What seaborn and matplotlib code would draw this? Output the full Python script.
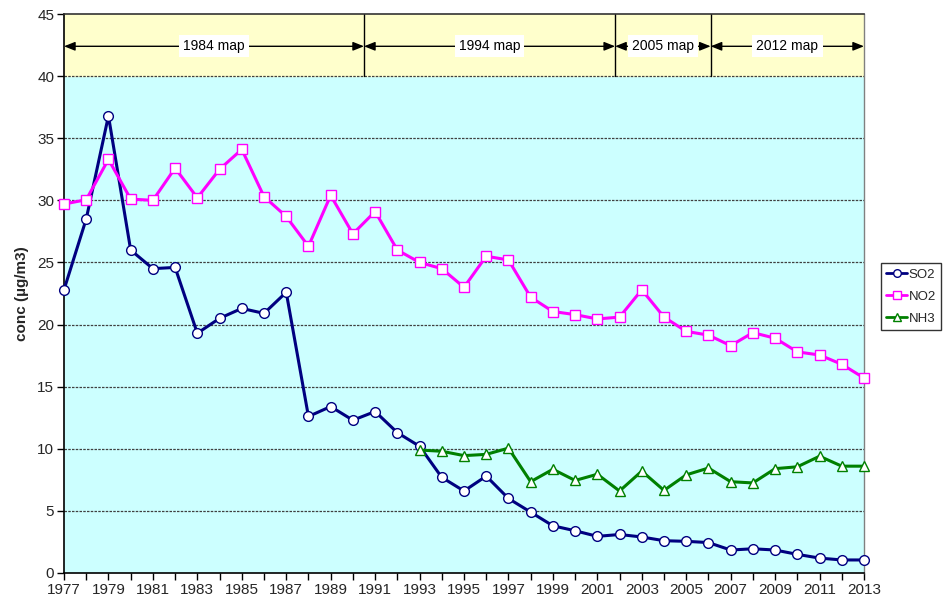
import numpy as np
import pandas as pd
import matplotlib
matplotlib.use("Agg")
import matplotlib.pyplot as plt
import seaborn as sns

# Annual mean concentrations (µg/m3)
years = list(range(1977, 2014))
so2 = [22.8, 28.5, 36.8, 26.0, 24.5, 24.6, 19.3, 20.5, 21.3, 20.9, 22.6,
       12.6, 13.4, 12.3, 13.0, 11.3, 10.2, 7.7, 6.6, 7.8, 6.0, 4.9, 3.8,
       3.4, 2.95, 3.1, 2.9, 2.6, 2.55, 2.45, 1.85, 1.95, 1.85, 1.5, 1.2,
       1.05, 1.05]
no2 = [29.7, 30.05, 33.3, 30.1, 30.0, 32.6, 30.2, 32.5, 34.1, 30.3, 28.7,
       26.3, 30.4, 27.3, 29.1, 26.0, 25.0, 24.5, 23.0, 25.5, 25.2, 22.2,
       21.05, 20.8, 20.45, 20.6, 22.8, 20.6, 19.45, 19.15, 18.3, 19.35,
       18.9, 17.8, 17.55, 16.8, 15.7]
nh3_years = list(range(1993, 2014))
nh3 = [9.9, 9.8, 9.45, 9.55, 10.05, 7.35, 8.35, 7.45, 7.95, 6.6, 8.2,
       6.65, 7.9, 8.45, 7.35, 7.25, 8.4, 8.55, 9.4, 8.6, 8.6]

# Map periods shown along the top band
map_labels = ["1984 map", "1994 map", "2005 map", "2012 map"]
map_bounds = [1977, 1990.5, 2001.8, 2006.1, 2013]

sns.set_theme(style="white")
plt.rcParams["font.family"] = ["Liberation Sans", "DejaVu Sans"]

fig = plt.figure(figsize=(9.46, 6.01), dpi=100)
ax = fig.add_axes([64 / 946, 28 / 601, 800 / 946, 559 / 601])

ax.set_facecolor("#CCFFFF")
ax.axhspan(40, 45, color="#FFFFCC", zorder=0)

df_so2 = pd.DataFrame({"year": years, "conc": so2})
df_no2 = pd.DataFrame({"year": years, "conc": no2})
df_nh3 = pd.DataFrame({"year": nh3_years, "conc": nh3})

common = dict(ax=ax, x="year", y="conc", linewidth=2.2, markerfacecolor="white",
              markeredgewidth=1.0, clip_on=False, zorder=4)
sns.lineplot(data=df_so2, color="#000080", marker="o", markersize=7,
             markeredgecolor="#000080", label="SO2", **common)
sns.lineplot(data=df_no2, color="#FF00FF", marker="s", markersize=7.2,
             markeredgecolor="#FF00FF", label="NO2", **common)
sns.lineplot(data=df_nh3, color="#008000", marker="^", markersize=7.5,
             markeredgecolor="#008000", label="NH3", **common)

ax.set_xlim(1977, 2013)
ax.set_ylim(0, 45)

# Horizontal reference lines
for yv in range(5, 45, 5):
    ax.axhline(yv, color="#404040", linewidth=0.9, linestyle=(0, (2, 1)), zorder=1)

# Period separators and spans
arrow_y = 42.4
for xb in map_bounds[1:-1]:
    ax.plot([xb, xb], [40, 45], color="black", linewidth=1.0, zorder=2)
for i, lab in enumerate(map_labels):
    x0, x1 = map_bounds[i], map_bounds[i + 1]
    ax.annotate("", xy=(x1, arrow_y), xytext=(x0, arrow_y),
                arrowprops=dict(arrowstyle="<|-|>,head_length=0.55,head_width=0.22",
                                color="black", lw=1.0, shrinkA=0, shrinkB=0),
                zorder=3)
    ax.text((x0 + x1) / 2, arrow_y, lab, ha="center", va="center", fontsize=10,
            color="black", zorder=5,
            bbox=dict(boxstyle="square,pad=0.3", facecolor="white", edgecolor="none"))

# Axes ticks
ax.set_xticks(years)
ax.set_xticklabels([str(y) if (y - 1977) % 2 == 0 else "" for y in years], fontsize=11)
ax.set_yticks(range(0, 50, 5))
ax.set_yticklabels([str(v) for v in range(0, 50, 5)], fontsize=11)
ax.tick_params(axis="both", direction="out", length=5, width=1, color="black",
               bottom=True, left=True, pad=2)
ax.set_xlabel("")
ax.set_ylabel("conc (µg/m3)", fontsize=11, fontweight="bold", labelpad=6)

for side in ["left", "bottom"]:
    ax.spines[side].set_color("black")
    ax.spines[side].set_linewidth(1.2)
ax.spines["top"].set_color("#333333")
ax.spines["top"].set_linewidth(1.2)
ax.spines["right"].set_color("#808080")
ax.spines["right"].set_linewidth(1.0)

leg = ax.legend(loc="center left", bbox_to_anchor=(1.021, 0.494), frameon=True,
                fancybox=False, edgecolor="black", fontsize=9.5, handlelength=1.6,
                handletextpad=0.1, borderpad=0.4, labelspacing=0.75, borderaxespad=0)
leg.get_frame().set_linewidth(1.0)
leg.get_frame().set_facecolor("white")
for h in leg.get_lines():
    h.set_markersize(5.5)
    h.set_linewidth(2)

fig.savefig("out.png", dpi=100, facecolor="white")
